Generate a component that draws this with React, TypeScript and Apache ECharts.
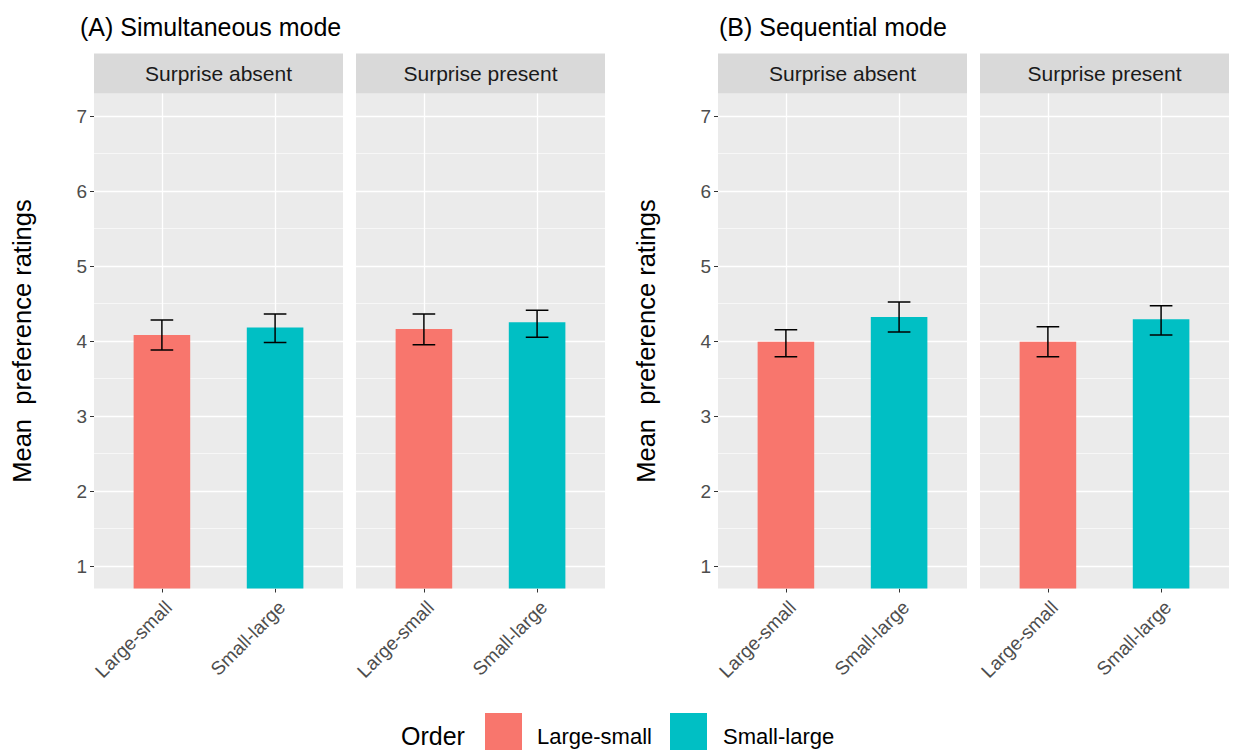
import React, { useEffect, useRef } from "react";
import * as echarts from "echarts";

// Categories and labels
const orders = ["Large-small", "Small-large"];
const surpriseLevels = ["Surprise absent", "Surprise present"];
const modeTitles = ["(A) Simultaneous mode", "(B) Sequential mode"];
const yTicks = [1, 2, 3, 4, 5, 6, 7];
const yMinorLines = [1.5, 2.5, 3.5, 4.5, 5.5, 6.5];

// Mean preference ratings, per order (Large-small, Small-large)
const simAbsentMean = [4.08, 4.18];
const simAbsentLow = [3.88, 3.98];
const simAbsentHigh = [4.28, 4.36];

const simPresentMean = [4.16, 4.25];
const simPresentLow = [3.95, 4.05];
const simPresentHigh = [4.36, 4.41];

const seqAbsentMean = [3.99, 4.32];
const seqAbsentLow = [3.79, 4.12];
const seqAbsentHigh = [4.15, 4.52];

const seqPresentMean = [3.99, 4.29];
const seqPresentLow = [3.79, 4.08];
const seqPresentHigh = [4.19, 4.47];

const panelMeans = [simAbsentMean, simPresentMean, seqAbsentMean, seqPresentMean];
const panelLows = [simAbsentLow, simPresentLow, seqAbsentLow, seqPresentLow];
const panelHighs = [simAbsentHigh, simPresentHigh, seqAbsentHigh, seqPresentHigh];

const orderColors = ["#F8766D", "#00BFC4"];

// Layout
const FONT = "'Liberation Sans', Arial, Helvetica, sans-serif";
const PANEL_LEFTS = [94, 356, 718, 980];
const PANEL_TOP = 93.5;
const PANEL_W = 249;
const PANEL_H = 495;
const STRIP_TOP = 53.5;
const STRIP_H = 40;
const X_MIN = 0.4;
const X_MAX = 2.6;
const BAR_UNITS = 0.5;
const CAP_HALF = 0.1;

function buildOption() {
  const grids: any[] = [];
  const xAxes: any[] = [];
  const yAxes: any[] = [];
  const series: any[] = [];
  const graphics: any[] = [];
  const barWidth = (PANEL_W / (X_MAX - X_MIN)) * BAR_UNITS;

  PANEL_LEFTS.forEach((left, i) => {
    const isFirstInMode = i % 2 === 0;
    grids.push({
      left,
      top: PANEL_TOP,
      width: PANEL_W,
      height: PANEL_H,
      show: true,
      backgroundColor: "#EBEBEB",
      borderWidth: 0,
      containLabel: false,
    });

    xAxes.push({
      type: "value",
      gridIndex: i,
      min: X_MIN,
      max: X_MAX,
      splitLine: { show: false },
      axisLine: { show: false },
      axisTick: {
        show: true,
        length: 4,
        customValues: [1, 2],
        lineStyle: { color: "#333333", width: 1 },
      },
      axisLabel: {
        customValues: [1, 2],
        rotate: 45,
        margin: 9,
        verticalAlign: "top",
        fontSize: 19,
        fontFamily: FONT,
        color: "#4D4D4D",
        formatter: (v: number) => orders[Math.round(v) - 1] ?? "",
      },
    });

    yAxes.push({
      type: "value",
      gridIndex: i,
      min: 0.7,
      max: 7.3,
      splitLine: { show: false },
      axisLine: { show: false },
      axisTick: {
        show: isFirstInMode,
        length: 4,
        customValues: yTicks,
        lineStyle: { color: "#333333", width: 1 },
      },
      axisLabel: {
        show: isFirstInMode,
        customValues: yTicks,
        margin: 7,
        fontSize: 19,
        fontFamily: FONT,
        color: "#4D4D4D",
      },
      name: isFirstInMode ? "Mean  preference ratings" : "",
      nameLocation: "middle",
      nameRotate: 90,
      nameGap: 59,
      nameTextStyle: { fontSize: 25.5, fontFamily: FONT, color: "#000000" },
    });

    // White panel grid lines, kept beneath the bars
    series.push({
      type: "line",
      xAxisIndex: i,
      yAxisIndex: i,
      data: [],
      silent: true,
      z: 1,
      markLine: {
        silent: true,
        z: 1,
        symbol: ["none", "none"],
        label: { show: false },
        lineStyle: { color: "#FFFFFF", type: "solid", width: 1.2 },
        emphasis: { disabled: true },
        data: [
          ...yTicks.map((v) => ({ yAxis: v, lineStyle: { width: 1.3 } })),
          ...yMinorLines.map((v) => ({ yAxis: v, lineStyle: { width: 0.6 } })),
          ...[1, 2].map((v) => ({ xAxis: v, lineStyle: { width: 1.3 } })),
        ],
      },
    });

    // Bars, one series per order
    orders.forEach((name, k) => {
      series.push({
        type: "bar",
        name,
        xAxisIndex: i,
        yAxisIndex: i,
        barWidth,
        barGap: "-100%",
        z: 3,
        itemStyle: { color: orderColors[k] },
        data: [[k + 1, panelMeans[i][k]]],
      });
    });

    // Error bars
    series.push({
      type: "custom",
      xAxisIndex: i,
      yAxisIndex: i,
      z: 6,
      silent: true,
      encode: { x: 0, y: [1, 2] },
      data: orders.map((_, k) => [k + 1, panelLows[i][k], panelHighs[i][k]]),
      renderItem: (params: any, api: any) => {
        const x = api.value(0);
        const lo = api.value(1);
        const hi = api.value(2);
        const pLo = api.coord([x, lo]);
        const pHi = api.coord([x, hi]);
        const left = api.coord([x - CAP_HALF, hi])[0];
        const right = api.coord([x + CAP_HALF, hi])[0];
        const style = { stroke: "#000000", lineWidth: 1.5 };
        return {
          type: "group",
          children: [
            { type: "line", shape: { x1: pLo[0], y1: pLo[1], x2: pHi[0], y2: pHi[1] }, style },
            { type: "line", shape: { x1: left, y1: pHi[1], x2: right, y2: pHi[1] }, style },
            { type: "line", shape: { x1: left, y1: pLo[1], x2: right, y2: pLo[1] }, style },
          ],
        };
      },
    });

    // Facet strip
    graphics.push({
      type: "rect",
      left,
      top: STRIP_TOP,
      shape: { width: PANEL_W, height: STRIP_H },
      style: { fill: "#D9D9D9" },
      silent: true,
    });
    graphics.push({
      type: "text",
      x: left + PANEL_W / 2,
      y: STRIP_TOP + STRIP_H / 2,
      style: {
        text: surpriseLevels[i % 2],
        fontSize: 21,
        fontFamily: FONT,
        fill: "#1A1A1A",
        align: "center",
        verticalAlign: "middle",
      },
      silent: true,
    });
  });

  // Mode titles
  modeTitles.forEach((t, m) => {
    graphics.push({
      type: "text",
      x: m === 0 ? 80 : 719,
      y: 27,
      style: {
        text: t,
        fontSize: 25,
        fontFamily: FONT,
        fill: "#000000",
        align: "left",
        verticalAlign: "middle",
      },
      silent: true,
    });
  });

  // Legend
  const legendY = 736;
  graphics.push({
    type: "text",
    x: 401,
    y: legendY,
    style: { text: "Order", fontSize: 25, fontFamily: FONT, fill: "#000000", verticalAlign: "middle" },
    silent: true,
  });
  const keyLefts = [485, 670];
  const keyTextLefts = [537, 723];
  orders.forEach((name, k) => {
    graphics.push({
      type: "rect",
      left: keyLefts[k],
      top: 713,
      shape: { width: 37, height: 45 },
      style: { fill: orderColors[k] },
      silent: true,
    });
    graphics.push({
      type: "text",
      x: keyTextLefts[k],
      y: legendY,
      style: { text: name, fontSize: 22, fontFamily: FONT, fill: "#000000", verticalAlign: "middle" },
      silent: true,
    });
  });

  return {
    animation: false,
    backgroundColor: "#FFFFFF",
    textStyle: { fontFamily: FONT },
    grid: grids,
    xAxis: xAxes,
    yAxis: yAxes,
    series,
    graphic: graphics,
  };
}

export default function App() {
  const ref = useRef<HTMLDivElement>(null);

  useEffect(() => {
    if (!ref.current) return;
    const chart = echarts.init(ref.current, undefined, { renderer: "svg" });
    chart.setOption(buildOption() as any);
    return () => {
      chart.dispose();
    };
  }, []);

  return (
    <div
      ref={ref}
      style={{ position: "absolute", left: 0, top: 0, width: 1233, height: 750, background: "#FFFFFF" }}
    />
  );
}
